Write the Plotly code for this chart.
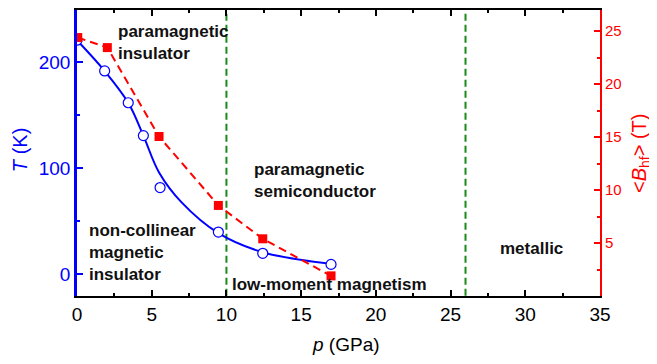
import plotly.graph_objects as go

# Data
p_T = [0.0, 1.85, 3.43, 4.44, 5.56, 9.46, 12.43, 17.0]
T_vals = [221, 192, 162, 131, 82, 40, 20, 9.5]

p_fit = [0.0, 1.85, 3.43, 4.44, 5.5, 7.0, 9.46, 12.43, 17.0]
T_fit = [221, 192, 162, 131, 96, 68, 39, 21, 10]

p_B = [0.05, 2.03, 5.49, 9.46, 12.43, 17.0]
B_vals = [24.4, 23.45, 15.06, 8.55, 5.4, 1.9]

boundaries = [10, 26]

x_ticks = [0, 5, 10, 15, 20, 25, 30, 35]
T_ticks = [0, 100, 200]
B_ticks = [5, 10, 15, 20, 25]

FONT = "Arial, Liberation Sans, sans-serif"
BLUE = "#0000ff"
RED = "#ff0000"
GREEN = "#1a8a1a"

fig = go.Figure()

for xb in boundaries:
    fig.add_trace(go.Scatter(x=[xb, xb], y=[-20, 250], mode="lines",
                             line=dict(color=GREEN, width=2, dash="7px,4px"),
                             showlegend=False, hoverinfo="skip"))

fig.add_trace(go.Scatter(x=p_fit, y=T_fit, mode="lines",
                         line=dict(color=BLUE, width=2, shape="spline", smoothing=1.0),
                         showlegend=False))
fig.add_trace(go.Scatter(x=p_T, y=T_vals, mode="markers",
                         marker=dict(symbol="circle", size=10, color="white",
                                     line=dict(color=BLUE, width=1.2)),
                         showlegend=False))

fig.add_trace(go.Scatter(x=p_B, y=B_vals, mode="lines", yaxis="y2",
                         line=dict(color=RED, width=2, dash="8px,5px"),
                         showlegend=False))
fig.add_trace(go.Scatter(x=p_B, y=B_vals, mode="markers", yaxis="y2",
                         marker=dict(symbol="square", size=9, color=RED),
                         showlegend=False))

ann_font = dict(family=FONT, size=17, color="#111111")
annotations = [
    (2.59, 219, "<b>paramagnetic<br>insulator</b>"),
    (11.69, 88.4, "<b>paramagnetic<br>semiconductor</b>"),
    (0.69, 20.3, "<b>non-collinear<br>magnetic<br>insulator</b>"),
    (10.24, -9.9, "<b>low-moment magnetism</b>"),
    (28.2, 24.7, "<b>metallic</b>"),
]
for x, y, t in annotations:
    fig.add_annotation(x=x, y=y, xref="x", yref="y", text=t, showarrow=False,
                       xanchor="left", yanchor="middle", align="left", font=ann_font)

# axis titles
fig.add_annotation(x=-0.109, y=0.51, xref="paper", yref="paper", text="<i>T</i> (K)",
                   textangle=-90, showarrow=False, xanchor="center", yanchor="middle",
                   borderpad=0,
                   font=dict(family=FONT, size=20, color=BLUE))
fig.add_annotation(x=1.0765, y=0.50, xref="paper", yref="paper",
                   text="&lt;<i>B</i><sub>hf</sub>&gt; (T)",
                   textangle=-90, showarrow=False, xanchor="center", yanchor="middle",
                   font=dict(family=FONT, size=20, color=RED))
fig.add_annotation(x=0.5143, y=-0.168, xref="paper", yref="paper", text="<i>p</i> (GPa)",
                   showarrow=False, xanchor="center", yanchor="middle",
                   font=dict(family=FONT, size=19, color="black"))

fig.update_layout(
    width=657, height=364,
    margin=dict(l=69, r=65, t=2, b=76, autoexpand=False),
    paper_bgcolor="white", plot_bgcolor="white",
    font=dict(family=FONT),
    xaxis=dict(range=[0, 35], tickvals=x_ticks, ticks="inside", ticklen=6, tickwidth=1.5,
               tickcolor="black", showline=True, linecolor="black", linewidth=2,
               mirror="ticks", showgrid=False, zeroline=False, automargin=False,
               tickfont=dict(size=19, color="black"),
               minor=dict(tickvals=[2.5, 7.5, 12.5, 17.5, 22.5, 27.5, 32.5],
                          ticks="inside", ticklen=3, tickcolor="black", tickwidth=1.5)),
    yaxis=dict(range=[-20.3, 249.5], tickvals=T_ticks, ticks="inside", ticklen=6, tickwidth=1.5,
               tickcolor=BLUE, showline=True, linecolor=BLUE, linewidth=2.5,
               showgrid=False, zeroline=False, automargin=False,
               tickfont=dict(size=19, color=BLUE),
               minor=dict(tickvals=[50, 150], ticks="inside", ticklen=3, tickcolor=BLUE, tickwidth=1.5)),
    yaxis2=dict(range=[0, 27], overlaying="y", side="right", tickvals=B_ticks,
                ticks="inside", ticklen=6, tickwidth=1.5, tickcolor=RED,
                showline=True, linecolor=RED, linewidth=2, showgrid=False, zeroline=False,
                automargin=False,
                tickfont=dict(size=15, color=RED),
                minor=dict(tickvals=[2.5, 7.5, 12.5, 17.5, 22.5], ticks="inside", ticklen=3,
                           tickcolor=RED, tickwidth=1.5)),
)

fig.write_html("out.html")
